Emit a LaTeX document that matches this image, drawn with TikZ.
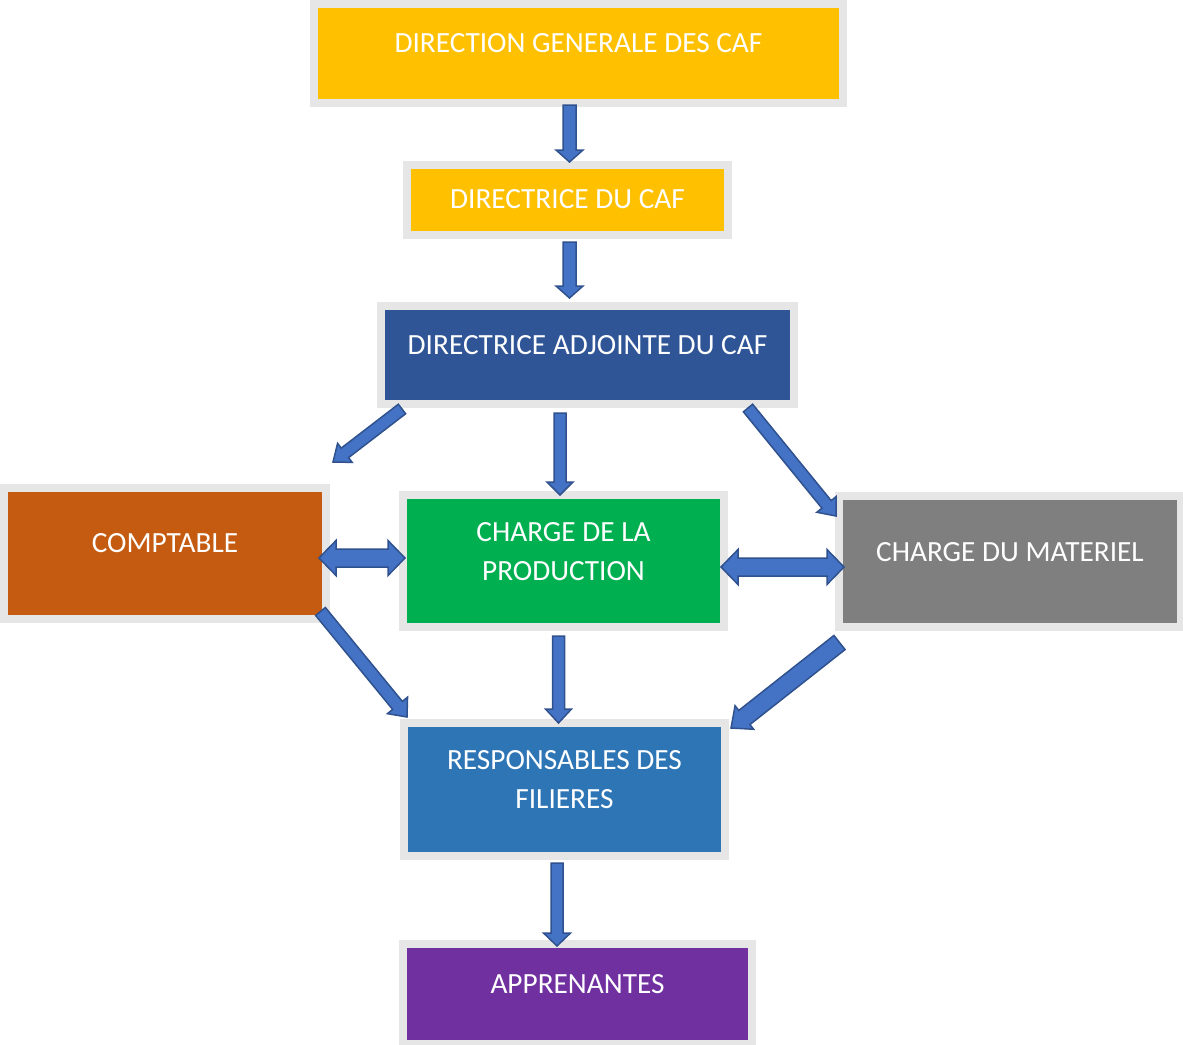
\documentclass[tikz,border=0pt]{standalone}
\usepackage{fontspec}
\setmainfont{Carlito}
\usetikzlibrary{calc}

\definecolor{cafgold}{HTML}{FFC000}
\definecolor{cafnavy}{HTML}{2F5597}
\definecolor{caforange}{HTML}{C55A11}
\definecolor{cafgreen}{HTML}{00B050}
\definecolor{cafgray}{HTML}{7F7F7F}
\definecolor{cafblue}{HTML}{2E75B6}
\definecolor{cafpurple}{HTML}{7030A0}
\definecolor{boxgray}{HTML}{E7E6E6}
\definecolor{arrowfill}{HTML}{4472C4}
\definecolor{arrowline}{HTML}{2F528F}

% block arrow: start, end, half shaft, half head, head length
\newcommand{\blockarrow}[5]{
  \coordinate (ba-s) at (#1);
  \coordinate (ba-e) at (#2);
  \coordinate (ba-h) at ($(ba-e)!#5!(ba-s)$);
  \draw[arrowbody] ($(ba-s)!#3!90:(ba-e)$) -- ($(ba-h)!#3!-90:(ba-s)$)
    -- ($(ba-h)!#4!-90:(ba-s)$) -- (ba-e) -- ($(ba-h)!#4!90:(ba-s)$)
    -- ($(ba-h)!#3!90:(ba-s)$) -- ($(ba-s)!#3!-90:(ba-e)$) -- cycle;
}
% same with a head at both ends
\newcommand{\doublearrow}[5]{
  \coordinate (da-s) at (#1);
  \coordinate (da-e) at (#2);
  \coordinate (da-hs) at ($(da-s)!#5!(da-e)$);
  \coordinate (da-he) at ($(da-e)!#5!(da-s)$);
  \draw[arrowbody] (da-s) -- ($(da-hs)!#4!90:(da-e)$) -- ($(da-hs)!#3!90:(da-e)$)
    -- ($(da-he)!#3!-90:(da-s)$) -- ($(da-he)!#4!-90:(da-s)$) -- (da-e)
    -- ($(da-he)!#4!90:(da-s)$) -- ($(da-he)!#3!90:(da-s)$)
    -- ($(da-hs)!#3!-90:(da-e)$) -- ($(da-hs)!#4!-90:(da-e)$) -- cycle;
}

\begin{document}
\begin{tikzpicture}
[x=1pt, y=-1pt,
box/.style={draw=boxgray, line width=8pt, inner sep=0pt, outer sep=0pt},
lbl/.style={text=white, font=\fontsize{29.3}{39}\selectfont, align=center},
arrowbody/.style={fill=arrowfill, draw=arrowline, line width=1.5pt, line join=miter}]
  \useasboundingbox (0,0) rectangle (1183,1044);

  % boxes
  \node[box, fill=cafgold, minimum width=529pt, minimum height=99pt,
    label={[lbl, yshift=10.5pt]center:DIRECTION GENERALE DES CAF}] (dg) at (578.5,53.5) {};
  \node[box, fill=cafgold, minimum width=321pt, minimum height=70pt,
    label={[lbl, yshift=1pt]center:DIRECTRICE DU CAF}] (dc) at (567.5,200) {};
  \node[box, fill=cafnavy, minimum width=413pt, minimum height=98pt,
    label={[lbl, yshift=10pt]center:DIRECTRICE ADJOINTE DU CAF}] (da) at (587.5,355) {};
  \node[box, fill=caforange, minimum width=322pt, minimum height=131pt,
    label={[lbl, yshift=10.5pt]center:COMPTABLE}] (co) at (165,553.5) {};
  \node[box, fill=cafgreen, minimum width=321pt, minimum height=132pt,
    label={[lbl, yshift=9.5pt]center:CHARGE DE LA\\PRODUCTION}] (pr) at (563.5,561) {};
  \node[box, fill=cafgray, minimum width=342pt, minimum height=131pt,
    label={[lbl, yshift=9.5pt]center:CHARGE DU MATERIEL}] (ma) at (1010,561.5) {};
  \node[box, fill=cafblue, minimum width=321pt, minimum height=133pt,
    label={[lbl, yshift=10pt]center:RESPONSABLES DES\\FILIERES}] (fi) at (564.5,789.5) {};
  \node[box, fill=cafpurple, minimum width=349pt, minimum height=100pt,
    label={[lbl, yshift=10pt]center:APPRENANTES}] (ap) at (577.5,994) {};

  % arrows
  \blockarrow{$(dg.south)+(-9,2)$}{$(dc.north)+(2,-3)$}{6.5pt}{13.5pt}{12pt}
  \blockarrow{$(dc.south)+(2,7)$}{$(da.north)+(-18,-8)$}{6.5pt}{13.5pt}{12pt}
  \blockarrow{$(da.south west)+(21,5)$}{$(co.north east)+(7,-26)$}{6pt}{12pt}{15pt}
  \blockarrow{$(da.south)+(-27.5,9)$}{$(pr.north)+(-3.5,0)$}{6pt}{13pt}{13pt}
  \blockarrow{$(da.south east)+(-46,4)$}{$(ma.north west)+(-3,20)$}{6pt}{12.5pt}{15pt}
  \doublearrow{$(co.east)+(-7,4.5)$}{$(pr.west)+(2,-3)$}{9pt}{17.5pt}{17pt}
  \doublearrow{$(pr.east)+(-3,6)$}{$(ma.west)+(5,5.5)$}{9pt}{17.5pt}{17pt}
  \blockarrow{$(co.south east)+(-5.5,-7.5)$}{$(fi.north west)+(3,-6)$}{6.3pt}{13pt}{15pt}
  \blockarrow{$(pr.south)+(-5,9)$}{$(fi.north)+(-6,0)$}{6pt}{13pt}{14pt}
  \blockarrow{$(ma.south west)+(0.5,15.5)$}{$(fi.north east)+(6,5)$}{9pt}{15pt}{17pt}
  \blockarrow{$(fi.south)+(-7.5,7)$}{$(ap.north)+(-20.5,2)$}{6pt}{13.5pt}{13pt}
\end{tikzpicture}
\end{document}
